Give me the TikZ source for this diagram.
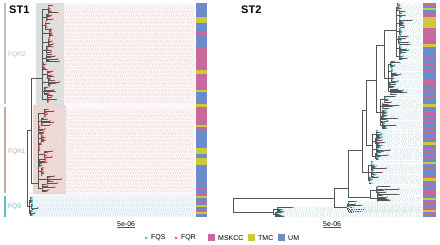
\documentclass[tikz,border=0pt]{standalone}
\usepackage{fontspec}
\setmainfont{Liberation Sans}
\usepackage{xcolor}
\usepackage{tikz}

\definecolor{fqs}{HTML}{5BC0CC}
\definecolor{fqr}{HTML}{F0605A}
\definecolor{msk}{HTML}{C9699B}
\definecolor{tmc}{HTML}{CFC93A}
\definecolor{um}{HTML}{6A8CCB}
\definecolor{fqrtwo}{HTML}{D9DFDC}
\definecolor{fqrone}{HTML}{EAD6D3}
\definecolor{fqrtwobar}{HTML}{B9C1BE}
\definecolor{fqronebar}{HTML}{C9A7A1}
\definecolor{fqrline}{HTML}{F5DEDF}
\definecolor{fqsline}{HTML}{DDEBEF}
\definecolor{fqrbg}{HTML}{FDF7F7}
\definecolor{fqsbg}{HTML}{F2F8FA}
\definecolor{treeline}{HTML}{555555}

\tikzset{
  branch/.style={draw=treeline, line width=0.4pt},
  tipline/.style={dotted, draw=\tipcol, line width=0.35pt},
  label/.style={font=\fontsize{6.5}{7}\selectfont, anchor=west, inner sep=0pt},
  title/.style={font=\fontsize{11}{12}\selectfont\bfseries, inner sep=0pt},
  legend/.style={font=\fontsize{7}{8}\selectfont, anchor=west, inner sep=0pt},
}

% one clade: backbone x, top y, bottom y, groups, stem max, tip max, share of FQR tips
\newcommand{\tipclade}[7]{%
  \pgfmathsetmacro{\gh}{(#3-#2)/#4}
  \draw[branch] (#1,{#2+\gh/2}) -- (#1,{#3-\gh/2});
  \foreach \g in {1,...,#4}{
    \pgfmathsetmacro{\ga}{#2+(\g-1)*\gh}
    \pgfmathsetmacro{\gm}{\ga+\gh/2}
    \pgfmathsetmacro{\gx}{#1+0.5+rnd*#5}
    \pgfmathtruncatemacro{\nt}{max(2,round(\gh/\tipgap))}
    \pgfmathsetmacro{\ts}{(\gh-\tipgap)/(\nt-1)}
    \draw[branch] (#1,\gm) -- (\gx,\gm);
    \draw[branch] (\gx,{\ga+\tipgap/2}) -- (\gx,{\ga+\gh-\tipgap/2});
    \foreach \t in {1,...,\nt}{
      \pgfmathsetmacro{\ty}{\ga+\tipgap/2+(\t-1)*\ts}
      \pgfmathsetmacro{\tx}{\gx+0.5+rnd*rnd*#6}
      \pgfmathtruncatemacro{\isred}{rnd<#7}
      \draw[tipline] (\tx,\ty) -- (\tipend,\ty);
      \draw[branch] (\gx,\ty) -- (\tx,\ty);
      \ifnum\isred=1 \fill[fqr] (\tx,\ty) circle (0.9pt);\else\fill[fqs] (\tx,\ty) circle (0.9pt);\fi
    }
  }
}

\begin{document}
\begin{tikzpicture}[x=1pt, y=-1pt]
\useasboundingbox (0,0) rectangle (440,245);
\pgfmathsetseed{11}

%--- Panel ST1 ---
\node[title, anchor=west] (stone) at (9,10) {ST1};

% group bars and labels
\fill[fqrtwobar] (4,3) rectangle (6,104);
\fill[fqronebar] (4,107) rectangle (6,193);
\fill[fqs] (4,196) rectangle (6,217);
\node[label, text=fqrtwobar] (lbfqrtwo) at (8,55) {FQR2};
\node[label, text=fqronebar] (lbfqrone) at (8,152) {FQR1};
\node[label, text=fqs] (lbfqs) at (8,207) {FQS};

% shading
\fill[fqrbg] (64,3) rectangle (195,194);
\fill[fqsbg] (30,194) rectangle (195,217);
\fill[fqrtwo] (36,3) rectangle (64,105);
\fill[fqrone] (33,105) rectangle (66,194);

% tree
\def\tipgap{1.3}
\def\tipend{194}
\def\tipcol{fqrline}
\tipclade{42}{5}{103}{12}{8}{13}{0.97}
\tipclade{38}{109}{192}{10}{10}{15}{0.97}
\def\tipcol{fqsline}
\tipclade{29}{197}{216}{3}{3}{7}{0.0}
\draw[branch] (42,78) -| (31,183) -- (38,183);
\draw[branch] (31,130) -- (27,130) |- (29,206.5);

% host bar
\fill[um] (196,3) rectangle (207,217);
\foreach \ya/\yb/\c in {17/23/tmc, 31/36/msk, 47/70/msk, 70/74/tmc, 74/90/msk, 90/92/tmc,
  104/107/tmc, 107/125/msk, 125/127/tmc, 127/130/msk, 148/154/tmc, 158/165/tmc,
  187/190/msk, 193/196/msk, 196/198/tmc, 201/203/msk, 205/207/tmc, 209/211/msk,
  212/214/tmc}
  \fill[\c] (196,\ya) rectangle (207,\yb);

\node[legend] (scaleone) at (117,224) {5e-06};
\draw[treeline, line width=0.4pt] ([yshift=-1pt]scaleone.south west) -- ([yshift=-1pt]scaleone.south east);

%--- Panel ST2 ---
\node[title, anchor=west] (sttwo) at (241,10) {ST2};

\def\tipgap{1.1}
\def\tipend{421}
\def\tipcol{fqsline}
\tipclade{396}{3}{60}{7}{4}{14}{0.06}
\tipclade{388}{61}{95}{5}{5}{18}{0.05}
\tipclade{380}{96}{129}{5}{6}{20}{0.05}
\tipclade{372}{130}{160}{4}{6}{22}{0.04}
\tipclade{368}{161}{184}{3}{6}{22}{0.03}
\tipclade{370}{186}{202}{2}{8}{40}{0.3}
\tipclade{347}{201}{213}{2}{6}{25}{0.0}
\tipclade{273}{207}{217}{2}{4}{22}{0.0}

% backbone
\draw[branch] (334,198) -- (233,198) -- (233,212) -- (273,212);
\draw[branch] (348,188) -- (334,188) -- (334,207) -- (347,207);
\draw[branch] (370,197) -- (348,197) -- (348,150) -- (362,150);
\draw[branch] (368,172) -- (362,172) -- (362,110) -- (366,110);
\draw[branch] (372,145) -- (366,145) -- (366,80) -- (376,80);
\draw[branch] (380,112) -- (376,112) -- (376,45) -- (384,45);
\draw[branch] (388,78) -- (384,78) -- (384,30) -- (396,30);

% host bar
\fill[um] (423,3) rectangle (436,217);
\foreach \ya/\yb/\c in {3/6/msk, 8/10/tmc, 13/17/msk, 17/28/tmc, 28/44/msk, 44/47/tmc,
  57/59/msk, 63/65/msk, 70/72/msk, 80/85/msk, 90/92/msk, 96/98/msk, 104/107/tmc,
  111/115/msk, 117/119/msk, 122/124/msk, 127/129/msk, 132/134/msk, 137/139/msk,
  142/145/tmc, 148/150/msk, 152/154/msk, 158/160/msk, 162/164/tmc, 168/170/msk,
  175/177/msk, 178/181/tmc, 184/186/msk, 190/195/msk, 198/200/tmc, 201/205/msk,
  207/209/msk, 210/212/tmc, 214/216/msk}
  \fill[\c] (423,\ya) rectangle (436,\yb);

\node[legend] (scaletwo) at (323,224) {5e-06};
\draw[treeline, line width=0.4pt] ([yshift=-1pt]scaletwo.south west) -- ([yshift=-1pt]scaletwo.south east);

%--- Legend ---
\fill[fqs] (146,238) circle (1.5pt);
\node[legend] (lgfqs) at (151,238) {FQS};
\fill[fqr] (176,238) circle (1.5pt);
\node[legend] (lgfqr) at (181,238) {FQR};
\fill[msk] (208,234.5) rectangle (215,241.5);
\node[legend] (lgmsk) at (218,238) {MSKCC};
\fill[tmc] (248,234.5) rectangle (255,241.5);
\node[legend] (lgtmc) at (258,238) {TMC};
\fill[um] (278,234.5) rectangle (285,241.5);
\node[legend] (lgum) at (288,238) {UM};
\end{tikzpicture}
\end{document}
